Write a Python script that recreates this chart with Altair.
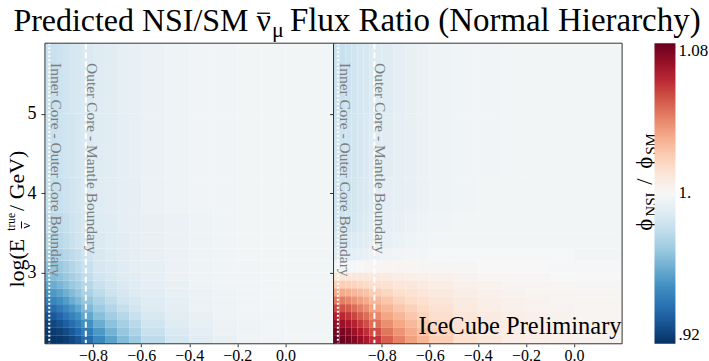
import altair as alt
import pandas as pd

# ---- layout (plot area of one panel, px) ----
PANEL_W = 289
PANEL_H = 301
SERIF = "Liberation Serif"

# ---- axes ----
cos_domain = [-1.0, 0.2]
loge_domain = [2.10, 5.89]
x_ticks = [-0.8, -0.6, -0.4, -0.2, 0.0]
y_ticks = [3, 4, 5]

# ---- binning of the ratio maps ----
x_edges = [-1.0, -0.975, -0.95, -0.925, -0.9, -0.875, -0.85, -0.8, -0.75, -0.7,
           -0.65, -0.6, -0.5, -0.4, -0.3, -0.2, -0.1, 0.0, 0.2]
y_edges = [2.10, 2.2, 2.3, 2.4, 2.5, 2.6, 2.7, 2.8, 2.9, 3.0, 3.15, 3.3, 3.5,
           3.75, 4.2, 5.0, 5.89]

# NSI/SM flux ratio, one list per energy bin (lowest energy first)
ratio_left = [
    [0.921, 0.921, 0.922, 0.924, 0.927, 0.931, 0.938, 0.948, 0.957, 0.965, 0.971, 0.979, 0.986, 0.991, 0.994, 0.996, 0.997, 0.998],
    [0.922, 0.923, 0.925, 0.928, 0.932, 0.937, 0.944, 0.954, 0.962, 0.969, 0.975, 0.982, 0.988, 0.992, 0.995, 0.996, 0.997, 0.998],
    [0.925, 0.927, 0.930, 0.934, 0.939, 0.944, 0.951, 0.960, 0.967, 0.973, 0.978, 0.984, 0.990, 0.993, 0.995, 0.996, 0.997, 0.998],
    [0.930, 0.932, 0.936, 0.941, 0.946, 0.951, 0.958, 0.966, 0.972, 0.977, 0.982, 0.987, 0.991, 0.994, 0.996, 0.997, 0.997, 0.998],
    [0.937, 0.939, 0.943, 0.948, 0.953, 0.958, 0.964, 0.971, 0.976, 0.981, 0.985, 0.989, 0.992, 0.995, 0.996, 0.997, 0.998, 0.998],
    [0.945, 0.947, 0.951, 0.955, 0.960, 0.964, 0.969, 0.975, 0.980, 0.984, 0.987, 0.990, 0.993, 0.995, 0.996, 0.997, 0.998, 0.998],
    [0.952, 0.954, 0.957, 0.961, 0.965, 0.969, 0.974, 0.979, 0.983, 0.986, 0.989, 0.991, 0.994, 0.995, 0.996, 0.997, 0.998, 0.998],
    [0.958, 0.960, 0.963, 0.966, 0.970, 0.973, 0.977, 0.982, 0.985, 0.988, 0.990, 0.992, 0.994, 0.996, 0.997, 0.997, 0.998, 0.998],
    [0.963, 0.965, 0.967, 0.970, 0.973, 0.976, 0.980, 0.984, 0.987, 0.989, 0.991, 0.993, 0.995, 0.996, 0.997, 0.997, 0.998, 0.998],
    [0.967, 0.968, 0.970, 0.973, 0.976, 0.979, 0.982, 0.986, 0.988, 0.990, 0.992, 0.993, 0.995, 0.996, 0.997, 0.997, 0.998, 0.998],
    [0.972, 0.973, 0.975, 0.977, 0.979, 0.981, 0.984, 0.987, 0.989, 0.991, 0.992, 0.994, 0.995, 0.996, 0.997, 0.998, 0.998, 0.998],
    [0.976, 0.977, 0.978, 0.980, 0.982, 0.984, 0.986, 0.988, 0.990, 0.991, 0.993, 0.994, 0.995, 0.996, 0.997, 0.998, 0.998, 0.998],
    [0.979, 0.979, 0.980, 0.981, 0.983, 0.985, 0.987, 0.989, 0.990, 0.992, 0.993, 0.994, 0.995, 0.996, 0.997, 0.998, 0.998, 0.998],
    [0.981, 0.981, 0.982, 0.983, 0.984, 0.986, 0.988, 0.990, 0.991, 0.992, 0.993, 0.995, 0.996, 0.997, 0.997, 0.998, 0.998, 0.998],
    [0.982, 0.982, 0.983, 0.984, 0.985, 0.987, 0.988, 0.990, 0.991, 0.992, 0.994, 0.995, 0.996, 0.997, 0.997, 0.998, 0.998, 0.998],
    [0.982, 0.982, 0.983, 0.984, 0.986, 0.987, 0.988, 0.990, 0.991, 0.993, 0.994, 0.995, 0.996, 0.997, 0.997, 0.998, 0.998, 0.998],
]

ratio_right = [
    [1.080, 1.079, 1.077, 1.074, 1.070, 1.065, 1.058, 1.048, 1.040, 1.033, 1.027, 1.020, 1.013, 1.009, 1.006, 1.005, 1.004, 1.003],
    [1.077, 1.076, 1.073, 1.069, 1.064, 1.059, 1.052, 1.043, 1.036, 1.030, 1.024, 1.018, 1.012, 1.008, 1.006, 1.005, 1.004, 1.003],
    [1.071, 1.069, 1.066, 1.062, 1.057, 1.052, 1.045, 1.037, 1.031, 1.026, 1.021, 1.016, 1.011, 1.008, 1.006, 1.004, 1.003, 1.003],
    [1.063, 1.061, 1.058, 1.054, 1.049, 1.045, 1.039, 1.032, 1.027, 1.022, 1.018, 1.014, 1.010, 1.007, 1.005, 1.004, 1.003, 1.002],
    [1.053, 1.051, 1.049, 1.045, 1.041, 1.037, 1.032, 1.027, 1.022, 1.019, 1.016, 1.012, 1.008, 1.006, 1.004, 1.003, 1.003, 1.002],
    [1.042, 1.041, 1.039, 1.036, 1.033, 1.030, 1.026, 1.022, 1.018, 1.015, 1.013, 1.010, 1.007, 1.005, 1.004, 1.003, 1.002, 1.002],
    [1.031, 1.030, 1.029, 1.027, 1.025, 1.023, 1.020, 1.017, 1.014, 1.012, 1.010, 1.008, 1.006, 1.004, 1.003, 1.002, 1.002, 1.001],
    [1.020, 1.020, 1.019, 1.018, 1.017, 1.016, 1.014, 1.012, 1.010, 1.009, 1.007, 1.006, 1.004, 1.003, 1.002, 1.002, 1.001, 1.001],
    [1.009, 1.009, 1.009, 1.009, 1.009, 1.009, 1.008, 1.007, 1.006, 1.005, 1.004, 1.004, 1.003, 1.002, 1.001, 1.001, 1.000, 1.000],
    [0.997, 0.997, 0.998, 0.999, 1.000, 1.001, 1.002, 1.002, 1.002, 1.002, 1.001, 1.001, 1.001, 1.000, 1.000, 1.000, 0.999, 0.999],
    [0.990, 0.990, 0.991, 0.992, 0.993, 0.994, 0.995, 0.996, 0.997, 0.998, 0.998, 0.999, 0.999, 0.999, 0.999, 0.999, 0.999, 0.998],
    [0.986, 0.987, 0.988, 0.989, 0.990, 0.991, 0.993, 0.994, 0.995, 0.996, 0.997, 0.998, 0.998, 0.998, 0.998, 0.998, 0.998, 0.998],
    [0.984, 0.984, 0.985, 0.986, 0.988, 0.989, 0.991, 0.993, 0.994, 0.995, 0.996, 0.997, 0.998, 0.998, 0.998, 0.998, 0.998, 0.998],
    [0.983, 0.983, 0.984, 0.985, 0.987, 0.988, 0.990, 0.992, 0.993, 0.994, 0.995, 0.996, 0.997, 0.998, 0.998, 0.998, 0.998, 0.998],
    [0.983, 0.983, 0.984, 0.985, 0.986, 0.988, 0.990, 0.991, 0.993, 0.994, 0.995, 0.996, 0.997, 0.997, 0.998, 0.998, 0.998, 0.998],
    [0.982, 0.982, 0.983, 0.984, 0.986, 0.987, 0.989, 0.990, 0.992, 0.994, 0.995, 0.996, 0.997, 0.997, 0.998, 0.998, 0.998, 0.998],
]

# Earth-layer boundaries in cos(zenith)
boundary_cos = [-0.982, -0.83]
boundary_names = ["Inner Core - Outer Core Boundary", "Outer Core - Mantle Boundary"]
boundary_label_cos = [-0.953, -0.806]
boundary_label_top = [5.64, 5.64]

# diverging colour map (RdBu reversed) and its stops
rdbu_colors = ["#053061", "#2166ac", "#4393c3", "#92c5de", "#d1e5f0", "#f7f7f7",
               "#fddbc7", "#f4a582", "#d6604d", "#b2182b", "#67001f"]
color_stops = [0.92, 0.936, 0.952, 0.968, 0.984, 1.0, 1.016, 1.032, 1.048, 1.064, 1.08]
colorbar_ticks = [0.92, 1.0, 1.08]


def grid_frame(grid):
    recs = []
    for j, row in enumerate(grid):
        for i, v in enumerate(row):
            recs.append({"c0": x_edges[i], "c1": x_edges[i + 1],
                         "e0": y_edges[j], "e1": y_edges[j + 1], "ratio": v})
    return pd.DataFrame(recs)


one_row = pd.DataFrame({"k": [0]})
bdf = pd.DataFrame({"cos": boundary_cos, "name": boundary_names,
                    "lab_cos": boundary_label_cos, "lab_top": boundary_label_top})
dotted_df = bdf.iloc[[0]]
dashed_df = bdf.iloc[[1]]

xs = alt.Scale(domain=cos_domain, nice=False, zero=False)
ys = alt.Scale(domain=loge_domain, nice=False, zero=False)
cs = alt.Scale(domain=color_stops, range=rdbu_colors, interpolate="rgb", clamp=True)


def x_axis():
    return alt.Axis(values=x_ticks, format=".1f", labelFont=SERIF, labelFontSize=16,
                    labelColor="black", tickSize=3, tickColor="#333", domain=False,
                    grid=False, labelBaseline="alphabetic", labelPadding=14, zindex=1)


def y_axis(show_labels):
    if show_labels:
        return alt.Axis(values=y_ticks, format="d", labelFont=SERIF, labelFontSize=18,
                        labelColor="black", tickSize=4, tickColor="#333", domain=False,
                        grid=False, labelPadding=5, zindex=1)
    return alt.Axis(values=y_ticks, labels=False, tickSize=4, tickColor="#333",
                    domain=False, grid=False, zindex=1)


legend = alt.Legend(type="gradient", orient="none", legendX=610.4, legendY=0,
                    direction="vertical", gradientLength=PANEL_H, gradientThickness=21,
                    values=colorbar_ticks,
                    labelExpr="datum.value > 1.04 ? '1.08' : (datum.value < 0.96 ? '.92' : '1.')",
                    labelFont=SERIF, labelFontSize=17, labelColor="black", labelOffset=3,
                    gradientStrokeWidth=0, padding=0, title=None)


def X(field):
    return alt.X(field, scale=xs, axis=x_axis(), title=None)


def Y(field, show_y):
    return alt.Y(field, scale=ys, axis=y_axis(show_y), title=None)


def text(label, x, y, size, angle=0, align="left", color="black"):
    return alt.Chart(one_row).mark_text(
        text=label, angle=angle, align=align, baseline="alphabetic",
        font=SERIF, fontSize=size, color=color
    ).encode(x=alt.value(x), y=alt.value(y))


def bar(x1, y1, x2, y2, width=1.3):
    # short stroke used as the overline of a barred symbol
    return alt.Chart(one_row).mark_rule(color="black", strokeWidth=width).encode(
        x=alt.value(x1), y=alt.value(y1), x2=alt.value(x2), y2=alt.value(y2))


def panel(grid, show_y, extras):
    heat = alt.Chart(grid_frame(grid)).mark_rect().encode(
        x=X("c0:Q"), x2="c1:Q",
        y=Y("e0:Q", show_y), y2="e1:Q",
        color=alt.Color("ratio:Q", scale=cs, legend=legend),
    )
    dotted = alt.Chart(dotted_df).mark_rule(color="white", strokeWidth=2, strokeDash=[2, 2]).encode(
        x=X("cos:Q"))
    dashed = alt.Chart(dashed_df).mark_rule(color="white", strokeWidth=2, strokeDash=[6, 3]).encode(
        x=X("cos:Q"))
    names = alt.Chart(bdf).mark_text(angle=90, align="left", baseline="middle", font=SERIF,
                                     fontSize=15.5, color="#7d7d7d").encode(
        x=X("lab_cos:Q"), y=Y("lab_top:Q", show_y), text="name:N")
    frame = alt.Chart(one_row).mark_rect(fillOpacity=0, stroke="#333", strokeWidth=1).encode(
        x=alt.value(0), x2=alt.value(PANEL_W), y=alt.value(0), y2=alt.value(PANEL_H))
    return alt.layer(heat, dotted, dashed, names, frame, *extras).properties(
        width=PANEL_W, height=PANEL_H)


# figure title, y-axis title (with sub/superscripts) and page anchor
left_extras = [
    alt.Chart(one_row).mark_rule(color="white", strokeWidth=0.1).encode(
        x=alt.value(-44.6), x2=alt.value(-44.0), y=alt.value(-42.3)),
    text("Predicted NSI/SM", -31.6, -12.3, 32),
    text("\u03bd", 211.9, -12.3, 32),
    bar(212.6, -30.0, 225.2, -30.0),
    text("\u03bc", 227.4, -6.0, 22),
    text("Flux Ratio (Normal Hierarchy)", 451.0, -12.3, 33, align="center"),
    text("log(E", -21.1, 244.7, 22, angle=270),
    text("true", -29.6, 187.7, 11.5, angle=270),
    text("\u03bd", -14.6, 185.7, 13, angle=270),
    bar(-23.5, 185.5, -23.5, 178.5, 1.0),
    text(" / GeV)", -21.1, 168.0, 22, angle=270),
]

right_extras = [
    text("IceCube Preliminary", 288.4, 291, 24.5, align="right"),
    text("\u03d5", 319.4, 187.7, 23, angle=270),
    text("NSI", 323.4, 173.7, 15, angle=270),
    text("/", 319.4, 141.7, 23, angle=270),
    text("\u03d5", 319.4, 125.7, 23, angle=270),
    text("SM", 323.4, 111.7, 15, angle=270),
]

left = panel(ratio_left, True, left_extras)
right = panel(ratio_right, False, right_extras)

chart = alt.hconcat(left, right, spacing=0, bounds="flush").resolve_scale(
    color="shared").properties(padding=0, background="white").configure_view(strokeWidth=0)

chart.save("out.html", embed_options={"renderer": "svg", "actions": False})
